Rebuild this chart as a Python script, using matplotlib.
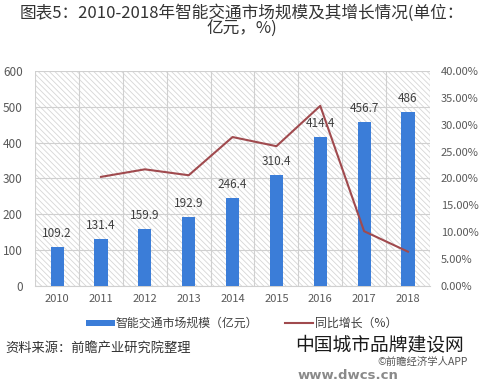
import matplotlib.pyplot as plt
from matplotlib.patches import Rectangle
import numpy as np

plt.rcParams['font.family'] = ['Noto Sans CJK SC', 'DejaVu Sans']
plt.rcParams['hatch.linewidth'] = 0.6

years = ['2010', '2011', '2012', '2013', '2014', '2015', '2016', '2017', '2018']
scale = [109.2, 131.4, 159.9, 192.9, 246.4, 310.4, 414.4, 456.7, 486]
growth_years = ['2011', '2012', '2013', '2014', '2015', '2016', '2017', '2018']
growth = [20.3, 21.7, 20.6, 27.7, 26.0, 33.5, 10.2, 6.4]

fig = plt.figure(figsize=(4.83, 3.83), dpi=100)
ax = fig.add_axes([0.073, 0.253, 0.817, 0.562])
ax2 = ax.twinx()

x = np.arange(len(years))
# hatched plot background
ax.add_patch(Rectangle((0, 0), 1, 1, transform=ax.transAxes, facecolor='white',
                       edgecolor='#d6d6d6', lw=0, hatch='\\\\\\\\\\\\', zorder=0))
ax.bar(x, scale, width=0.3, color='#3b7dd8', zorder=3, label='智能交通市场规模（亿元）')
for xi, v in zip(x, scale):
    ax.text(xi, v + 20, f'{v:g}', ha='center', va='bottom', fontsize=8.5, color='#404040', zorder=4)

gx = [years.index(y) for y in growth_years]
ax2.plot(gx, growth, color='#a04a4e', lw=1.5, label='同比增长（%）', zorder=5)

ax.set_xlim(-0.5, len(years) - 0.5)
ax.set_ylim(0, 600)
ax.set_yticks(range(0, 601, 100))
ax2.set_ylim(0, 40)
ax2.set_yticks(np.arange(0, 41, 5))
ax2.set_yticklabels([f'{t:.2f}%' for t in np.arange(0, 41, 5)])
ax.set_xticks(x)
ax.set_xticklabels(years)
ax.set_xticks(np.arange(-0.5, len(years), 1), minor=True)
ax.grid(True, axis='y', color='#d0d0d0', lw=0.8, zorder=1)
ax.grid(True, axis='x', which='minor', color='#d0d0d0', lw=0.8, zorder=1)
ax.set_axisbelow(True)
for a in (ax, ax2):
    for s in a.spines.values():
        s.set_visible(False)
    a.tick_params(length=0, labelsize=8, colors='#595959', which='both')
ax.tick_params(axis='y', labelsize=8.5)
ax.tick_params(axis='x', pad=6)
ax.tick_params(axis='y', pad=9)
ax2.tick_params(axis='y', pad=8)
ax.spines['bottom'].set_visible(True)
ax.spines['bottom'].set_color('#d0d0d0')

h1, l1 = ax.get_legend_handles_labels()
h2, l2 = ax2.get_legend_handles_labels()
fig.legend(h1 + h2, l1 + l2, loc='center', bbox_to_anchor=(0.5, 0.155), ncol=2,
           frameon=False, fontsize=8.6, handlelength=2.4, handleheight=0.45,
           columnspacing=2.2, handletextpad=0.1, labelcolor='#404040')

fig.text(0.5, 0.945, '图表5：2010-2018年智能交通市场规模及其增长情况(单位：\n亿元，%)',
         ha='center', va='center', fontsize=12, color='#333333', linespacing=0.95)
fig.text(0.012, 0.09, '资料来源：前瞻产业研究院整理', fontsize=9.5, style='italic',
         color='#333333', va='center')
fig.text(0.785, 0.1, '中国城市品牌建设网', ha='center', va='center', fontsize=13.5,
         color='#1a1a1a')
fig.text(0.875, 0.055, '©前瞻经济学人APP', ha='center', va='center', fontsize=7.5, color='#555555')
fig.text(0.72, 0.02, 'www.dwcs.cn', ha='center', va='center', fontsize=9.5,
         fontweight='bold', color='#8a8a8a', family='DejaVu Sans')

fig.savefig('out.png', dpi=100)
